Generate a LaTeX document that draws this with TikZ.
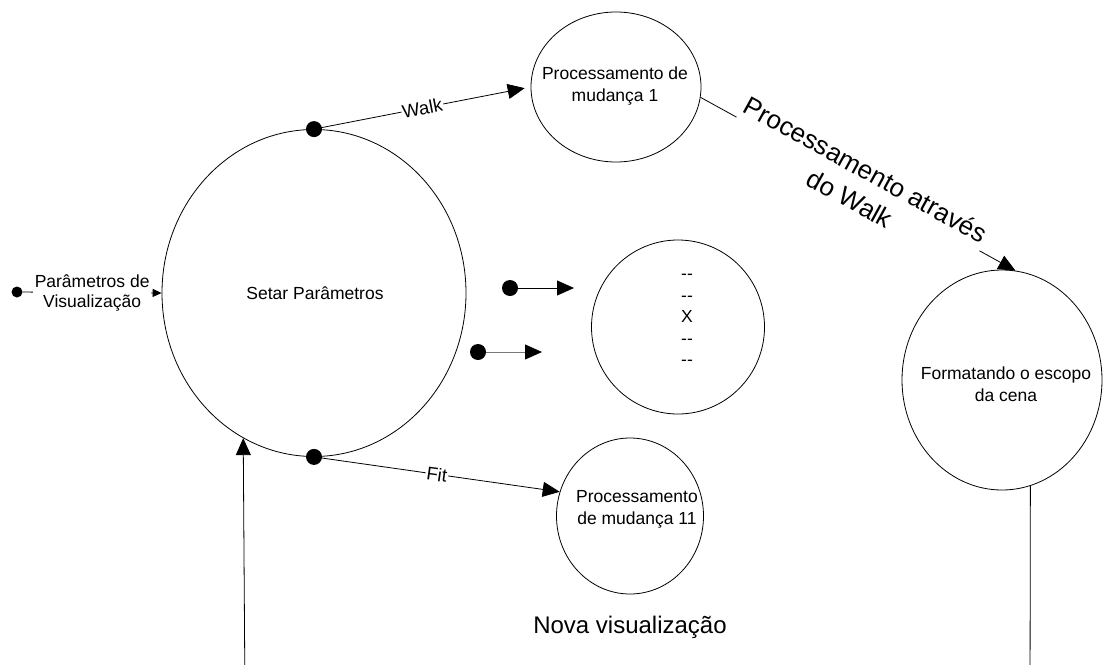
\documentclass[tikz,border=0pt]{standalone}
\usepackage{fontspec}
\setmainfont{Liberation Sans}
\usetikzlibrary{shapes.geometric,arrows.meta}
\definecolor{lg}{RGB}{120,120,120}
\begin{document}
\begin{tikzpicture}[x=1pt,y=-1pt,
  ell/.style={draw, ellipse, inner sep=0pt, line width=0.8pt},
  txt/.style={align=center, font=\fontsize{17.5}{22}\selectfont, inner sep=0pt},
  dot/.style={circle, fill=black, inner sep=0pt, minimum size=16pt},
  sdot/.style={circle, fill=black, inner sep=0pt, minimum size=11pt},
  conn/.style={line width=0.8pt},
  arr/.style={conn, -{Triangle[length=17pt,width=15pt]}},
  garr/.style={conn, draw=lg, -{Triangle[length=17pt,width=15pt,color=black,fill=black]}},
  sarr/.style={conn, -{Triangle[length=9pt,width=8pt]}},
  lab/.style={fill=white, inner sep=1pt, font=\fontsize{18.5}{22}\selectfont, sloped},
  plab/.style={fill=white, inner sep=1.5pt, align=center, font=\fontsize{17.5}{20}\selectfont},
  biglab/.style={fill=white, inner sep=2pt, align=center, sloped, font=\fontsize{26}{33}\selectfont}
]
\useasboundingbox (0,0) rectangle (1103,664);
\clip (0,0) rectangle (1103,664);
\fill[white] (0,0) rectangle (1103,664);

% main shapes
\node[ell, minimum width=304pt, minimum height=327pt] (S) at (314,293) {};
\node[txt] (St) at (315,293) {Setar Parâmetros};

\node[ell, minimum width=170pt, minimum height=150pt] (P1) at (616,87) {};
\node[txt] (P1t) at (615,86) {Processamento de\\mudança 1};

\node[ell, minimum width=173pt, minimum height=174pt] (X) at (678,327) {};
\node[txt, font=\fontsize{17.5}{21.4}\selectfont] (Xt) at (687,320) {-{}-\\-{}-\\X\\-{}-\\-{}-};

\node[ell, minimum width=147pt, minimum height=156pt] (P11) at (630,516) {};
\node[txt] (P11t) at (637,509) {Processamento\\de mudança 11};

\node[ell, minimum width=200pt, minimum height=220pt] (F) at (1002,380) {};
\node[txt] (Ft) at (1006,384) {Formatando o escopo\\da cena};

% left input
\node[sdot] (d0) at (17,292) {};
\draw[sarr] (d0) -- node[plab] {Parâmetros de\\Visualização} (S.west);

% Walk / Fit
\node[dot] (d1) at (S.north) {};
\draw[arr, shorten >=6pt] (d1.center) -- node[lab] {Walk} (P1.west);
\node[dot] (d2) at (S.south) {};
\draw[arr] (d2.center) -- node[lab] {Fit} (P11.161);

% dot arrows
\node[dot] (d3) at (510,288) {};
\coordinate (t3) at (574,288);
\draw[arr] (d3) -- (t3);
\node[dot] (d4) at (478,352) {};
\coordinate (t4) at (542,352);
\draw[garr] (d4) -- (t4);

% P1 -> F
\draw[arr] (P1.-7.6) -- node[biglab] {Processamento através\\do Walk} (F.83);

% loop back
\coordinate (br) at (1030,700);
\coordinate (bl) at (245,700);
\draw[arr] (F.-75.2) -- (br) -- (bl) -- (S.244.6);
\node[font=\fontsize{24}{28}\selectfont, inner sep=0pt] (nv) at (630,627) {Nova visualização};
\end{tikzpicture}
\end{document}
